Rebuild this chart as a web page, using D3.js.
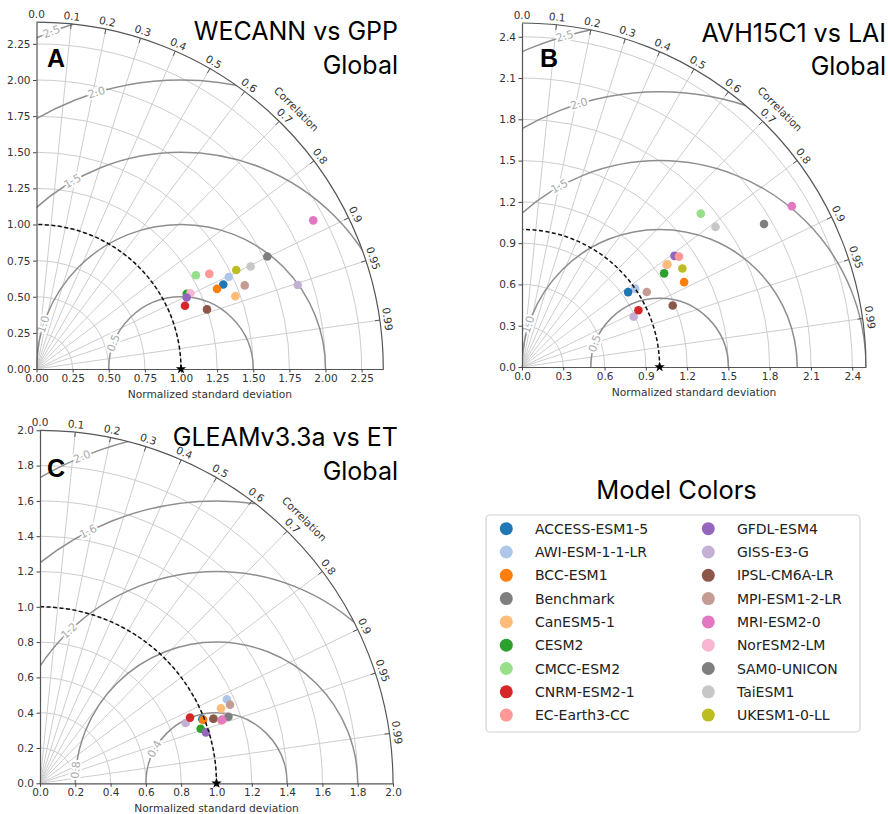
<!DOCTYPE html>
<html><head><meta charset="utf-8">
<script src="https://cdn.jsdelivr.net/npm/d3@7"></script>
<style>
body{margin:0;background:#fff}
svg text{font-family:"DejaVu Sans",sans-serif}
</style></head><body>
<svg id="chart" width="888" height="814"></svg>
<script>
// ---------- data ----------
const models = ["ACCESS-ESM1-5","AWI-ESM-1-1-LR","BCC-ESM1","Benchmark","CanESM5-1","CESM2","CMCC-ESM2","CNRM-ESM2-1","EC-Earth3-CC","GFDL-ESM4","GISS-E3-G","IPSL-CM6A-LR","MPI-ESM1-2-LR","MRI-ESM2-0","NorESM2-LM","SAM0-UNICON","TaiESM1","UKESM1-0-LL"];
const modelColors = ["#1f77b4","#aec7e8","#ff7f0e","#7f7f7f","#ffbb78","#2ca02c","#98df8a","#d62728","#ff9896","#9467bd","#c5b0d5","#8c564b","#c49c94","#e377c2","#f7b6d2","#7f7f7f","#c7c7c7","#bcbd22"];
const plotOrder = ["AWI-ESM-1-1-LR","ACCESS-ESM1-5","Benchmark","TaiESM1","UKESM1-0-LL","CMCC-ESM2","CESM2","NorESM2-LM","GFDL-ESM4","EC-Earth3-CC","CanESM5-1","BCC-ESM1","GISS-E3-G","CNRM-ESM2-1","IPSL-CM6A-LR","MPI-ESM1-2-LR","SAM0-UNICON","MRI-ESM2-0"];

const corrTicks = [0.0,0.1,0.2,0.3,0.4,0.5,0.6,0.7,0.8,0.9,0.95,0.99];

// Panel A: WECANN vs GPP
const stdA  = [1.419,1.475,1.367,null,1.466,1.163,1.280,1.117,1.365,1.151,1.899,1.250,1.553,2.174,1.187,1.777,1.643,1.543];
const corrA = [0.911,0.902,0.914,null,0.939,0.894,0.862,0.920,0.876,0.903,0.952,0.944,0.928,0.881,0.897,0.899,0.902,0.896];
const ticksA = [0,0.25,0.5,0.75,1.0,1.25,1.5,1.75,2.0,2.25];
const rmsA = [0.5,1.0,1.5,2.0,2.5];

// Panel B: AVH15C1 vs LAI
const stdB  = [0.944,1.000,1.330,null,1.294,1.237,1.712,0.941,1.395,1.371,0.890,1.183,1.058,2.283,1.285,2.043,1.736,1.368];
const corrB = [0.817,0.822,0.886,null,0.817,0.835,0.759,0.899,0.818,0.808,0.912,0.926,0.857,0.859,0.817,0.861,0.810,0.852];
const ticksB = [0,0.3,0.6,0.9,1.2,1.5,1.8,2.1,2.4];
const rmsB = [0.5,1.0,1.5,2.0,2.5];

// Panel C: GLEAMv3.3a vs ET
const stdC  = [0.989,1.161,0.992,null,1.110,0.961,1.051,0.928,1.088,0.983,0.893,1.048,1.165,1.092,1.113,1.132,1.129,1.097];
const corrC = [0.930,0.912,0.932,null,0.924,0.947,0.937,0.916,0.945,0.956,0.924,0.937,0.924,0.944,0.943,0.943,0.943,0.944];
const ticksC = [0,0.2,0.4,0.6,0.8,1.0,1.2,1.4,1.6,1.8,2.0];
const rmsC = [0.4,0.8,1.2,1.6,2.0];

// ---------- layout ----------
const panels = [
  {letter:"A", title:["WECANN vs GPP","Global"], std:stdA, corr:corrA, ticks:ticksA, rms:rmsA, fmt:".2f",
   rmax:2.4, ox:36.5, oy:369, R:346.8, lblAng:[159,162,120,107,111], tx:398, ty:40, lx:47, ly:67},
  {letter:"B", title:["AVH15C1 vs LAI","Global"], std:stdB, corr:corrB, ticks:ticksB, rms:rmsB, fmt:".1f",
   rmax:2.5, ox:522, oy:367, R:344, lblAng:[160,162,119,107,106], tx:886, ty:41.5, lx:540, ly:67},
  {letter:"C", title:["GLEAMv3.3a vs ET","Global"], std:stdC, corr:corrC, ticks:ticksC, rms:rmsC, fmt:".1f",
   rmax:2.0, ox:40, oy:783.3, R:353, lblAng:[151,174.6,134,117,112.4], tx:398, ty:446, lx:47, ly:477}
];

const svg = d3.select("#chart");
const colorOf = d3.scaleOrdinal().domain(models).range(modelColors);

function quarterArc(ox, oy, rad){
  const p = d3.path();
  p.moveTo(ox + rad, oy);
  p.arc(ox, oy, rad, 0, -Math.PI/2, true);
  return p.toString();
}

panels.forEach((P, pi) => {
  const g = svg.append("g");
  const r = d3.scaleLinear().domain([0, P.rmax]).range([0, P.R]);
  const xS = d3.scaleLinear().domain([0, P.rmax]).range([P.ox, P.ox + P.R]);
  const yS = d3.scaleLinear().domain([0, P.rmax]).range([P.oy, P.oy - P.R]);
  const pos = (s, c) => [P.ox + r(s) * c, P.oy - r(s) * Math.sqrt(1 - c * c)];

  const clipId = "clip" + pi;
  svg.append("clipPath").attr("id", clipId).append("path")
    .attr("d", quarterArc(P.ox, P.oy, P.R) + `L${P.ox},${P.oy}Z`);

  // std grid arcs
  g.selectAll(".sg").data(P.ticks.filter(t => t > 0 && t < P.rmax - 1e-6)).join("path")
    .attr("d", t => quarterArc(P.ox, P.oy, r(t)))
    .attr("fill", "none").attr("stroke", "#cdcdcd").attr("stroke-width", 1);

  // correlation radial lines
  g.selectAll(".rg").data(corrTicks.filter(c => c > 0)).join("line")
    .attr("x1", P.ox).attr("y1", P.oy)
    .attr("x2", c => pos(P.rmax, c)[0]).attr("y2", c => pos(P.rmax, c)[1])
    .attr("stroke", "#cdcdcd").attr("stroke-width", 1);

  // RMS contours
  const cg = g.append("g").attr("clip-path", `url(#${clipId})`);
  cg.selectAll("circle").data(P.rms).join("circle")
    .attr("cx", xS(1)).attr("cy", P.oy).attr("r", d => r(d))
    .attr("fill", "none").attr("stroke", "#8e8e8e").attr("stroke-width", 1.5);

  // RMS labels
  P.rms.forEach((v, i) => {
    const a = P.lblAng[i] * Math.PI / 180;
    const x = xS(1 + v * Math.cos(a)), y = yS(v * Math.sin(a));
    g.append("text").attr("transform", `translate(${x},${y}) rotate(${90 - P.lblAng[i]})`)
      .attr("text-anchor", "middle").attr("dominant-baseline", "central")
      .attr("font-size", 11).attr("fill", "#ababab")
      .attr("stroke", "#fff").attr("stroke-width", 4).attr("paint-order", "stroke")
      .text(d3.format(".1f")(v));
  });

  // model points
  plotOrder.forEach(name => {
    const i = models.indexOf(name);
    if (P.std[i] == null) return;
    const [x, y] = pos(P.std[i], P.corr[i]);
    g.append("circle").attr("cx", x).attr("cy", y).attr("r", 4.3).attr("fill", colorOf(name));
  });

  // reference dashed arc
  g.append("path").attr("d", quarterArc(P.ox, P.oy, r(1)))
    .attr("fill", "none").attr("stroke", "#111").attr("stroke-width", 1.5).attr("stroke-dasharray", "4,2.5");

  // outer arc
  g.append("path").attr("d", quarterArc(P.ox, P.oy, P.R))
    .attr("fill", "none").attr("stroke", "#555").attr("stroke-width", 1.2);

  // correlation ticks + labels
  corrTicks.forEach(c => {
    const th = Math.acos(c);
    if (c > 0) {
      g.append("line")
        .attr("x1", P.ox + (P.R - 5) * Math.cos(th)).attr("y1", P.oy - (P.R - 5) * Math.sin(th))
        .attr("x2", P.ox + P.R * Math.cos(th)).attr("y2", P.oy - P.R * Math.sin(th))
        .attr("stroke", "#555").attr("stroke-width", 1);
    }
    const rr = P.R + 8;
    g.append("text")
      .attr("transform", `translate(${P.ox + rr * Math.cos(th)},${P.oy - rr * Math.sin(th)}) rotate(${90 - th * 180 / Math.PI})`)
      .attr("text-anchor", "middle").attr("dominant-baseline", "central")
      .attr("font-size", 10.5).attr("fill", "#333")
      .text(Math.round(c * 100) % 10 === 0 ? d3.format(".1f")(c) : d3.format(".2f")(c));
  });
  {
    const th = Math.PI / 4, rr = P.R + 21;
    g.append("text")
      .attr("transform", `translate(${P.ox + rr * Math.cos(th)},${P.oy - rr * Math.sin(th)}) rotate(45)`)
      .attr("text-anchor", "middle").attr("dominant-baseline", "central")
      .attr("font-size", 10.5).attr("fill", "#333").text("Correlation");
  }

  // axes
  const ya = g.append("g").attr("transform", `translate(${P.ox},0)`)
    .call(d3.axisLeft(yS).tickValues(P.ticks).tickFormat(d3.format(P.fmt)).tickSize(3.5).tickSizeOuter(0).tickPadding(2.5));
  const xa = g.append("g").attr("transform", `translate(0,${P.oy})`)
    .call(d3.axisBottom(xS).tickValues(P.ticks).tickFormat(d3.format(P.fmt)).tickSize(3.5).tickSizeOuter(0).tickPadding(2));
  [ya, xa].forEach(a => {
    a.selectAll("text").attr("font-size", 10.5).attr("fill", "#333").attr("font-family", "DejaVu Sans");
    a.selectAll("line").attr("stroke", "#444");
    a.select(".domain").attr("stroke", "#555").attr("stroke-width", 1.2);
  });

  g.append("text").attr("x", P.ox + P.R / 2).attr("y", P.oy + 25)
    .attr("text-anchor", "middle").attr("dominant-baseline", "central")
    .attr("font-size", 10.7).attr("fill", "#333").text("Normalized standard deviation");

  // star at reference
  g.append("path").attr("d", d3.symbol(d3.symbolStar, 34)())
    .attr("transform", `translate(${xS(1)},${P.oy})`).attr("fill", "#000");

  // titles
  P.title.forEach((t, k) => {
    svg.append("text").attr("x", P.tx).attr("y", P.ty + k * 33.5)
      .attr("text-anchor", "end").attr("font-size", 25)
      .style("font-family", "Inter, 'Open Sans', sans-serif").attr("fill", "#000").text(t);
  });
  svg.append("text").attr("x", P.lx).attr("y", P.ly)
    .attr("font-size", 25).attr("font-weight", 700)
    .style("font-family", "'Liberation Sans', Arial, sans-serif").attr("fill", "#000").text(P.letter);
});

// ---------- legend ----------
const lg = svg.append("g");
lg.append("text").attr("x", 676.5).attr("y", 498.5).attr("text-anchor", "middle")
  .attr("font-size", 25.5).style("font-family", "Inter, 'Open Sans', sans-serif").attr("fill", "#000").text("Model Colors");
lg.append("rect").attr("x", 486).attr("y", 515).attr("width", 374).attr("height", 217)
  .attr("rx", 4).attr("fill", "#fff").attr("stroke", "#d2d2d2").attr("stroke-width", 1.2);
const perCol = 9;
models.forEach((m, i) => {
  const col = Math.floor(i / perCol), row = i % perCol;
  const mx = col === 0 ? 506.3 : 708.3;
  const my = 528.7 + row * 23.3;
  lg.append("circle").attr("cx", mx).attr("cy", my).attr("r", 6.5).attr("fill", colorOf(m));
  lg.append("text").attr("x", mx + 28.6).attr("y", my).attr("dominant-baseline", "central")
    .attr("font-size", 14).attr("fill", "#222").text(m);
});
</script>
</body></html>
